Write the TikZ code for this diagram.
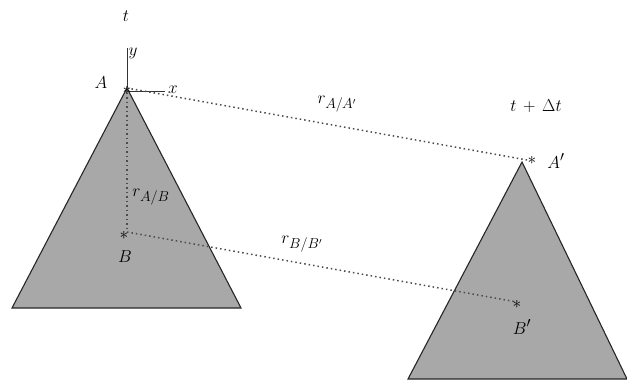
\documentclass[tikz,border=0pt]{standalone}
\usepackage{tikz}
\definecolor{tri}{RGB}{168,168,168}
\begin{document}
\begin{tikzpicture}[x=1pt,y=-1pt,
  tribox/.style={fill=tri,draw=black!85,line width=1.1pt,line join=miter},
  dotline/.style={dash pattern=on 1.5pt off 3pt,line width=1.5pt,black!70},
  lbl/.style={inner sep=0pt,font=\fontsize{19}{22}\selectfont},
  ax/.style={line width=0.8pt,black!80},
  star/.style={inner sep=0pt,font=\fontsize{18}{20}\selectfont}]
\useasboundingbox (0,0) rectangle (627,381);
% triangles
\draw[tribox] (127,88) -- (241,308) -- (12,308) -- cycle;
\draw[tribox] (522,162) -- (627,379) -- (408,379) -- cycle;
% points
\coordinate (A) at (127,88);
\coordinate (B) at (127,232);
\coordinate (Ap) at (527,160);
\coordinate (Bp) at (517,302);
\coordinate (Ytip) at (127,48);
\coordinate (Xtip) at (165,91);
\coordinate (Xo) at (127,91);
% axes
\draw[ax] (A) -- (Ytip);
\draw[ax] (Xo) -- (Xtip);
% dotted lines
\draw[dotline] (A) -- (Ap);
\draw[dotline] (A) -- (B);
\draw[dotline] (B) -- (Bp);
% asterisks
\node[star] (sA) at (127,90) {$*$};
\node[star] (sB) at (124,235) {$*$};
\node[star] (sAp) at (532,160) {$*$};
\node[star] (sBp) at (517,304) {$*$};
% labels
\node[lbl] (t) at (126,16) {$t$};
\node[lbl] (ly) at (133,53) {$y$};
\node[lbl] (lx) at (173,90) {$x$};
\node[lbl] (lA) at (101,83) {$A$};
\node[lbl] (lAp) at (556,161) {$A'$};
\node[lbl] (lB) at (125,257) {$B$};
\node[lbl] (lBp) at (522,327) {$B'$};
\node[lbl] (rAA) at (337,104) {$r_{A/A'}$};
\node[lbl] (tdt) at (536,106) {$t\,+\,\Delta t$};
\node[lbl] (rAB) at (151,197) {$r_{A/B}$};
\node[lbl] (rBB) at (302,244) {$r_{B/B'}$};
\end{tikzpicture}
\end{document}
